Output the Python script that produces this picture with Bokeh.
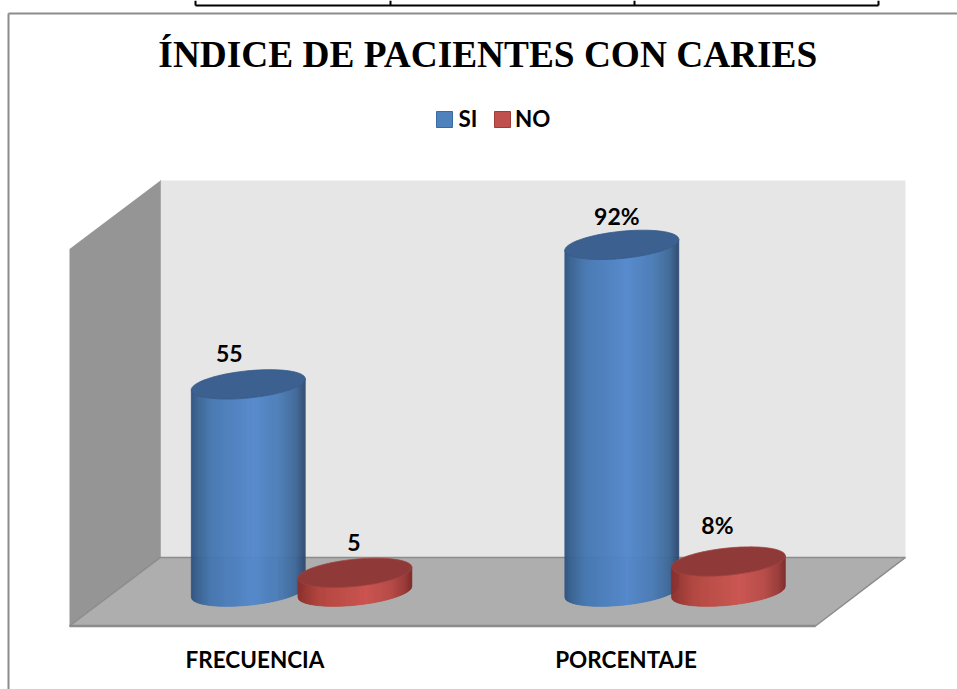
from bokeh.plotting import figure
from bokeh.embed import file_html
from bokeh.resources import INLINE
from bokeh.models import Range1d
from bokeh.core.properties import value
import numpy as np

# --- chart data ---
TITLE = "ÍNDICE DE PACIENTES CON CARIES"
CATEGORIES = ["FRECUENCIA", "PORCENTAJE"]
SERIES = ["SI", "NO"]
SI_VALUES = [55, 92]
NO_VALUES = [5, 8]
SI_LABELS = ["55", "92%"]
NO_LABELS = ["5", "8%"]
AXIS_MAX = 100

# --- layout (screen pixels of the 957x689 page) ---
W, H = 957, 689
PX_PER_UNIT = 3.77
ZERO_PY = 591.2
DEPTH = 9.1
FIRST_X, STEP_X, SERIES_GAP = 247.8, 373.5, 106.6
RX, RY, SKEW = 57.0, 13.6, 5.5
WALL_L, WALL_R, FRONT_L, FRONT_R = 160, 905, 69, 815
BASELINE_FIX = 0.37


def dv(px):
    return px / PX_PER_UNIT


def py(y_px):
    return (ZERO_PY - y_px) / PX_PER_UNIT


p = figure(width=W, height=H, output_backend="svg", toolbar_location=None,
           x_range=Range1d(0, W), y_range=Range1d(py(H), py(0)),
           x_axis_location=None, y_axis_location=None,
           min_border=0, outline_line_color=None, background_fill_color="white",
           border_fill_color="white")
p.grid.visible = False

# page frame and fragment of table above the chart
p.segment([8, 8], [py(13), py(13)], [8, W], [py(H), py(13)], line_color="#8c8c8c", line_width=2)
p.segment([195, 195, 390, 634, 878], [py(5), py(0), py(0), py(0), py(0)],
          [878, 195, 390, 634, 878], [py(5), py(5), py(5), py(5), py(5)],
          line_color="black", line_width=2)

# 3-D walls
top_back, top_front = AXIS_MAX + DEPTH, AXIS_MAX - DEPTH
p.patch([WALL_L, WALL_R, WALL_R, WALL_L], [DEPTH, DEPTH, top_back, top_back],
        fill_color="#e6e6e6", fill_alpha=1.0, line_color=None)
p.patch([WALL_L, WALL_L, FRONT_L, FRONT_L], [top_back, DEPTH, -DEPTH, top_front],
        fill_color="#959595", fill_alpha=1.0, line_color=None)
p.patch([WALL_L, WALL_R, FRONT_R, FRONT_L], [DEPTH, DEPTH, -DEPTH, -DEPTH],
        fill_color="#aeaeae", fill_alpha=1.0, line_color=None)
p.line([WALL_L, WALL_L], [top_back, DEPTH], line_color="#a8a8a8", line_width=1)
p.line([FRONT_L, WALL_L, WALL_R, FRONT_R, FRONT_L], [-DEPTH, DEPTH, DEPTH, -DEPTH, -DEPTH],
       line_color="#8c8c8c", line_width=1.5)
p.line([FRONT_L, FRONT_R], [-DEPTH, -DEPTH], line_color="#8c8c8c", line_width=2.5)


def lerp_hex(stops, t):
    pos = [s[0] for s in stops]
    rgb = [[int(s[1][i:i + 2], 16) for s in stops] for i in (1, 3, 5)]
    return "#%02x%02x%02x" % tuple(int(round(np.interp(t, pos, c))) for c in rgb)


BLUE_GRAD = [(0, "#2f5280"), (0.05, "#38618f"), (0.18, "#4677b1"), (0.55, "#5488cc"),
             (0.78, "#4a7bb5"), (0.92, "#3f6898"), (1, "#2e4a6e")]
RED_GRAD = [(0, "#8a2f2d"), (0.05, "#963532"), (0.2, "#b4463f"), (0.6, "#cc5450"),
            (0.82, "#b84a47"), (0.94, "#9a3b38"), (1, "#7f2b2a")]


def cylinder(cx, val, grad, top_color, edge):
    n = int(2 * RX)
    us = np.linspace(-1, 1, n + 1)

    def lower(u):
        return dv(SKEW * u - RY * np.sqrt(np.clip(1 - u * u, 0, 1)))

    xs, ys, cols = [], [], []
    for i in range(n):
        u0, u1 = us[i], us[i + 1]
        x0, x1 = cx + RX * u0, cx + RX * u1
        xs.append([x0, x1, x1, x0])
        ys.append([lower(u0), lower(u1), val + lower(u1), val + lower(u0)])
        cols.append(lerp_hex(grad, (u0 + u1 + 2) / 4))
    p.patches(xs, ys, fill_color=cols, fill_alpha=1.0, line_color=cols, line_alpha=1.0, line_width=0.6)
    t = np.linspace(0, 2 * np.pi, 120)
    ex = cx + RX * np.cos(t)
    ey = val + dv(SKEW * np.cos(t) + RY * np.sin(t))
    p.patch(ex, ey, fill_color=top_color, fill_alpha=1.0, line_color=edge, line_width=0.8)


for i in range(len(CATEGORIES)):
    cylinder(FIRST_X + STEP_X * i, SI_VALUES[i], BLUE_GRAD, "#3c6090", "#355a88")
for i in range(len(CATEGORIES)):
    cylinder(FIRST_X + STEP_X * i + SERIES_GAP, NO_VALUES[i], RED_GRAD, "#8f3a38", "#a04240")


def label(x, y, text, size, font="Lato", align="center"):
    p.text(x, y, text=text, text_font=value(font), text_font_style="bold",
           text_font_size=f"{size}px", text_align=align, text_baseline="alphabetic",
           text_color="black", y_offset=-BASELINE_FIX * size)


# value labels
label_dx = [[-19, -5], [-1, -11]]
label_dy = [[22.2, 20.5], [22.2, 28]]
for s, (vals, labs) in enumerate(zip([SI_VALUES, NO_VALUES], [SI_LABELS, NO_LABELS])):
    for i, (v, lab) in enumerate(zip(vals, labs)):
        label([FIRST_X + STEP_X * i + SERIES_GAP * s + label_dx[s][i]], [v + dv(label_dy[s][i])], [lab], 23)

# category labels
cat_dx = [6.7, 4.2]
label([FIRST_X + STEP_X * i + cat_dx[i] for i in range(len(CATEGORIES))], [py(667)] * len(CATEGORIES),
      CATEGORIES, 22.5)

# title
label([487.3], [py(68)], [TITLE], 37.35, font="Liberation Serif")

# legend
for name, x0, fill, edge, tx in zip(SERIES, [436, 494], ["#4f81bd", "#c0504d"],
                                    ["#3a6ba0", "#a03c3a"], [458, 514.5]):
    p.quad(left=[x0], right=[x0 + 16], bottom=[py(127)], top=[py(111)],
           fill_color=fill, fill_alpha=1.0, line_color=edge, line_width=1)
    label([tx], [py(126)], [name], 22.4, align="left")

open("out.html", "w").write(file_html(p, INLINE))
